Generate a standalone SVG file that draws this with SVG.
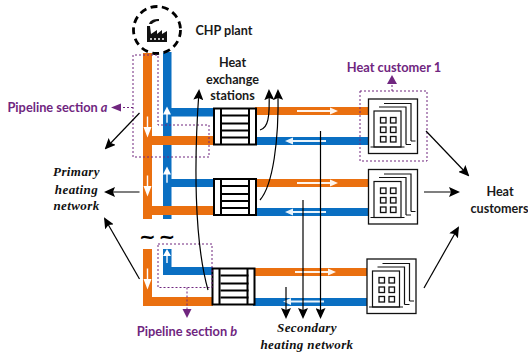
<svg xmlns="http://www.w3.org/2000/svg" width="528" height="353" viewBox="0 0 528 353">
<style>
.o{fill:#EA7010}.b{fill:#0A6FC2}
.k{stroke:#000;stroke-width:1.2;fill:none}
.d{stroke:#70267f;stroke-width:1;stroke-dasharray:2 2;fill:none}
.pt{fill:#70267f}
.t{font-family:Lato,"Open Sans",sans-serif;font-weight:700;font-size:12.600px;fill:#1a1a1a;text-anchor:middle}
.p{font-family:Lato,"Open Sans",sans-serif;font-weight:700;font-size:12.800px;fill:#70267f;text-anchor:middle}
.i{font-family:"Liberation Serif",serif;font-weight:700;font-style:italic;font-size:13px;fill:#111;text-anchor:middle;letter-spacing:.4px}
</style>
<defs>
<g id="hx">
<rect x="0" y="0" width="42" height="36" fill="#fff" stroke="#000" stroke-width="2"/>
<path d="M7 0V36M35 0V36" stroke="#000" stroke-width="2"/>
<path d="M8 7H36M8 15H36M8 22H36M8 29H36" stroke="#000" stroke-width="1.800"/>
</g>
<g id="bld">
<rect x="0" y="0" width="49" height="54.500" fill="#fff" stroke="#111" stroke-width="1.300"/>
<g fill="#fff" stroke="#111" stroke-width="1.200">
<path d="M15.500 4.500H42.500V42M42.500 42H47"/>
<path d="M10.500 8H37.500V45.500M37.500 45.500H42.500"/>
<rect x="5.500" y="12" width="27" height="36"/>
<path d="M2 48H36" fill="none"/>
</g>
<g fill="#fff" stroke="#111" stroke-width="1.300">
<rect x="12" y="18.500" width="5.500" height="5.500"/><rect x="22" y="18.500" width="5.500" height="5.500"/>
<rect x="12" y="28" width="5.500" height="5.500"/><rect x="22" y="28" width="5.500" height="5.500"/>
<rect x="12" y="37.500" width="5.500" height="5.500"/><rect x="22" y="37.500" width="5.500" height="5.500"/>
</g>
</g>
<path id="up" d="M-0.700 11V4H-4L0 -3L4 4H0.700V11Z" fill="#fff"/>
<path id="r" d="M-41 -1H-8V-3.500L0 0L-8 3.500V1H-41Z" fill="#fff" opacity=".92"/>
<marker id="a" markerWidth="11" markerHeight="10" refX="9" refY="5" orient="auto" markerUnits="userSpaceOnUse"><path d="M0 0L11 5L0 10L2 5Z" fill="#000"/></marker>
</defs>

<g id="pipes">
<rect class="o" x="143" y="53" width="9" height="166"/>
<rect class="b" x="163" y="52" width="8.500" height="167"/>
<rect class="o" x="152" y="136" width="62" height="9"/>
<rect class="b" x="171" y="108" width="43" height="8.500"/>
<rect class="o" x="152" y="206" width="62" height="9"/>
<rect class="b" x="171" y="179" width="43" height="8"/>
<rect class="o" x="143" y="249" width="9" height="57"/>
<rect class="o" x="143" y="297" width="70" height="9"/>
<rect class="b" x="163" y="249" width="8.500" height="26"/>
<rect class="b" x="163" y="267" width="50" height="8"/>
<rect class="o" x="255" y="107" width="113" height="8"/>
<rect class="b" x="255" y="137" width="113" height="8"/>
<rect class="o" x="255" y="179" width="113" height="8"/>
<rect class="b" x="255" y="208" width="113" height="8"/>
<rect class="o" x="253" y="268" width="114" height="8"/>
<rect class="b" x="253" y="298" width="114" height="8"/>
<g>
<use href="#up" transform="translate(167,110) scale(1,1.150)"/>
<use href="#up" transform="translate(167,170) scale(1,1.150)"/>
<use href="#up" transform="translate(167,252)"/>
<use href="#up" transform="translate(147.500,133) rotate(180) scale(1,1.500)"/>
<use href="#up" transform="translate(147.500,192) rotate(180) scale(1,1.500)"/>
<use href="#up" transform="translate(147.500,285) rotate(180) scale(1,1.500)"/>
<use href="#r" x="338" y="111"/>
<use href="#r" x="338" y="183"/>
<use href="#r" x="336" y="272"/>
<use href="#r" transform="translate(285,141) rotate(180)"/>
<use href="#r" transform="translate(285,212) rotate(180)"/>
<use href="#r" transform="translate(283,301.500) rotate(180)"/>
</g>
</g>

<g id="plant">
<circle cx="157" cy="30" r="23.500" fill="#fff" stroke="#000" stroke-width="2.800" stroke-dasharray="7 4.500"/>
<path d="M147 42V26H150L151 34L157 30V34L162 30V34L167 31V42Z" fill="#111"/>
<path d="M149 24C150 20 154 19 159 19V21C155 21 153 23 152 24Z" fill="#111"/>
<path d="M150 39h14" stroke="#fff" stroke-width="1.500" stroke-dasharray="2 2"/>
<text class="t" x="224" y="35">CHP plant</text>
</g>

<g id="station1"><use href="#hx" x="214" y="108.500"/></g>
<g id="station2"><use href="#hx" x="214" y="179"/></g>
<g id="station3"><use href="#hx" x="212.500" y="268.500"/></g>
<g id="customer1"><use href="#bld" x="368.500" y="99"/></g>
<g id="customer2"><use href="#bld" x="368.500" y="169.500"/></g>
<g id="customer3"><use href="#bld" x="367" y="259"/></g>

<g id="dashed">
<path class="d" d="M133 55V157H209V125H158V55Z"/>
<path class="d" d="M133 107.500H121"/>
<path class="pt" d="M111 107.500L121 103.500V111.500Z"/>
<rect class="d" x="360" y="91" width="67" height="70"/>
<path class="d" d="M392 91V84"/>
<path class="pt" d="M392 75L397 84H387Z"/>
<rect class="d" x="158" y="244" width="54" height="43.500"/>
<path class="d" d="M187 287.500V309"/>
<path class="pt" d="M187 318L182.500 309H191.500Z"/>
</g>

<g id="connectors">
<path class="k" marker-end="url(#a)" d="M139.500 113L106 148"/>
<path class="k" marker-end="url(#a)" d="M139.500 192H106"/>
<path class="k" marker-end="url(#a)" d="M139.500 279L105 219"/>
<path class="k" marker-end="url(#a)" d="M208 290C194 240 194 160 199 91"/>
<path class="k" marker-end="url(#a)" d="M260 130C268 128 270 118 269 91"/>
<path class="k" marker-end="url(#a)" d="M260 200C273 185 279 140 278 91"/>
<path class="k" marker-end="url(#a)" d="M426 131L468 175"/>
<path class="k" marker-end="url(#a)" d="M424 192H458"/>
<path class="k" marker-end="url(#a)" d="M424 288L458 228"/>
<path class="k" marker-end="url(#a)" d="M286 287V317"/>
<path class="k" marker-end="url(#a)" d="M303 200V317"/>
<path class="k" marker-end="url(#a)" d="M320.500 131V317"/>
</g>

<g id="labels">
<text class="t" x="232.500" y="67">Heat</text>
<text class="t" x="232.500" y="83.500">exchange</text>
<text class="t" x="232.500" y="100">stations</text>
<text class="p" x="57.500" y="112">Pipeline section <tspan font-style="italic">a</tspan></text>
<text class="p" x="394" y="72">Heat customer 1</text>
<text class="p" x="187" y="336">Pipeline section <tspan font-style="italic">b</tspan></text>
<text class="t" x="500" y="196">Heat</text>
<text class="t" x="499.500" y="213">customers</text>
<text class="i" x="76.500" y="176">Primary</text>
<text class="i" x="76.500" y="194">heating</text>
<text class="i" x="76.500" y="210">network</text>
<text class="i" x="307" y="332">Secondary</text>
<text class="i" x="307" y="349">heating network</text>
<text x="147.500" y="243" font-family="'DejaVu Sans',sans-serif" font-size="20" font-weight="700" text-anchor="middle" fill="#000">~</text>
<text x="167" y="243" font-family="'DejaVu Sans',sans-serif" font-size="20" font-weight="700" text-anchor="middle" fill="#000">~</text>
</g>
</svg>
